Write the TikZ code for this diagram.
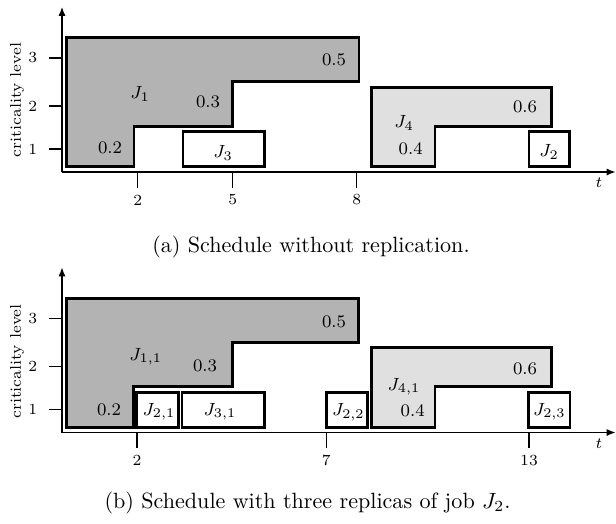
\documentclass[tikz,border=0pt]{standalone}
\usetikzlibrary{arrows.meta}

\definecolor{jobdark}{HTML}{B3B3B3}
\definecolor{joblight}{HTML}{E0E0E0}

\begin{document}
\begin{tikzpicture}[
  x=.4527pt,y=-.4527pt,
  axis/.style={draw=black,line width=.55pt},
  tick/.style={font=\scriptsize},
  job/.style={draw=black,line width=1.25pt,line join=miter},
  lab/.style={font=\footnotesize},
  captext/.style={font=\normalsize}
]
  \path[use as bounding box] (0,0) rectangle (616,523);
  % (a) without replication
  \draw[axis,-{Latex[length=4pt,width=3.2pt]}] (62,172)--(62,7);
  \draw[axis,-{Latex[length=4pt,width=3.2pt]}] (62,172)--(615.5,172);
  \node[tick,rotate=90] (ylaba) at (17,100) {criticality level};
  \node[tick] (ta) at (599,182.7) {$t$};
  \foreach \lv/\y in {1/149,2/106,3/58}{
    \draw[axis] (49,\y)--(62,\y);
    \node[tick,anchor=east] (lva\lv) at (45,\y) {\lv};
  }
  \foreach \x/\lab in {137.7/2,232.7/5,356.7/8}{
    \draw[axis] (\x,172)--(\x,187.7);
    \node[tick] (tka\lab) at (\x,200) {\lab};
  }
  \draw[job,fill=jobdark] (66.7,37.3)--(359,37.3)--(359,81.7)--(232.3,81.7)
    --(232.3,126.3)--(134,126.3)--(134,166.7)--(66.7,166.7)--cycle;
  \draw[job,fill=joblight] (371.7,87.3)--(551.7,87.3)--(551.7,126.3)
    --(435,126.3)--(435,166.7)--(371.7,166.7)--cycle;
  \draw[job] (183,131.7) rectangle (264.3,166.7);
  \draw[job] (529,131.7) rectangle (569.3,166.7);
  \node[lab] (j1) at (140,94) {$J_1$};
  \node[lab] (j1a) at (110,148) {0.2};
  \node[lab] (j1b) at (208,102) {0.3};
  \node[lab] (j1c) at (334,60) {0.5};
  \node[lab] (j3) at (223,153) {$J_3$};
  \node[lab] (j4) at (404,123) {$J_4$};
  \node[lab] (j4a) at (410.7,149) {0.4};
  \node[lab] (j4b) at (525,107) {0.6};
  \node[lab] (j2) at (549,152) {$J_2$};
  \node[captext] (capa) at (311,247) {(a) Schedule without replication.};

  % (b) three replicas of J2
  \begin{scope}[shift={(0,260.5)}]
    \draw[axis,-{Latex[length=4pt,width=3.2pt]}] (62,172)--(62,7);
    \draw[axis,-{Latex[length=4pt,width=3.2pt]}] (62,172)--(615.5,172);
    \node[tick,rotate=90] (ylabb) at (17,101) {criticality level};
    \node[tick] (tb) at (599,182.8) {$t$};
    \foreach \lv/\y in {1/149,2/106,3/58}{
      \draw[axis] (49,\y)--(62,\y);
      \node[tick,anchor=east] (lvb\lv) at (45,\y) {\lv};
    }
    \foreach \x/\lab in {137/2,326.3/7,529/13}{
      \draw[axis] (\x,172)--(\x,187.7);
      \node[tick] (tkb\lab) at (\x,200) {\lab};
    }
    \draw[job,fill=jobdark] (66.7,38.2)--(358.3,38.2)--(358.3,81.8)--(232.3,81.8)
      --(232.3,126.2)--(133.3,126.2)--(133.3,166.8)--(66.7,166.8)--cycle;
    \draw[job,fill=joblight] (371.7,87.2)--(551.7,87.2)--(551.7,126.2)
      --(435,126.2)--(435,166.8)--(371.7,166.8)--cycle;
    \draw[job] (136.7,132.2) rectangle (178.3,166.8);
    \draw[job] (182,132.2) rectangle (264.3,166.8);
    \draw[job] (326.7,132.2) rectangle (367.7,166.8);
    \draw[job] (528.7,132.2) rectangle (570,166.8);
    \node[lab] (j11) at (145.7,96.2) {$J_{1,1}$};
    \node[lab] (j11a) at (109,149.5) {0.2};
    \node[lab] (j11b) at (205,105.2) {0.3};
    \node[lab] (j11c) at (334,61.2) {0.5};
    \node[lab] (j21) at (159,151.2) {$J_{2,1}$};
    \node[lab] (j31) at (220,151.2) {$J_{3,1}$};
    \node[lab] (j22) at (348.3,151.8) {$J_{2,2}$};
    \node[lab] (j41) at (404,126.2) {$J_{4,1}$};
    \node[lab] (j41a) at (412.7,150.5) {0.4};
    \node[lab] (j41b) at (525,108.5) {0.6};
    \node[lab] (j23) at (549.3,151.5) {$J_{2,3}$};
  \end{scope}
  \node[captext] (capb) at (307.5,503) {(b) Schedule with three replicas of job $J_2$.};
\end{tikzpicture}
\end{document}
